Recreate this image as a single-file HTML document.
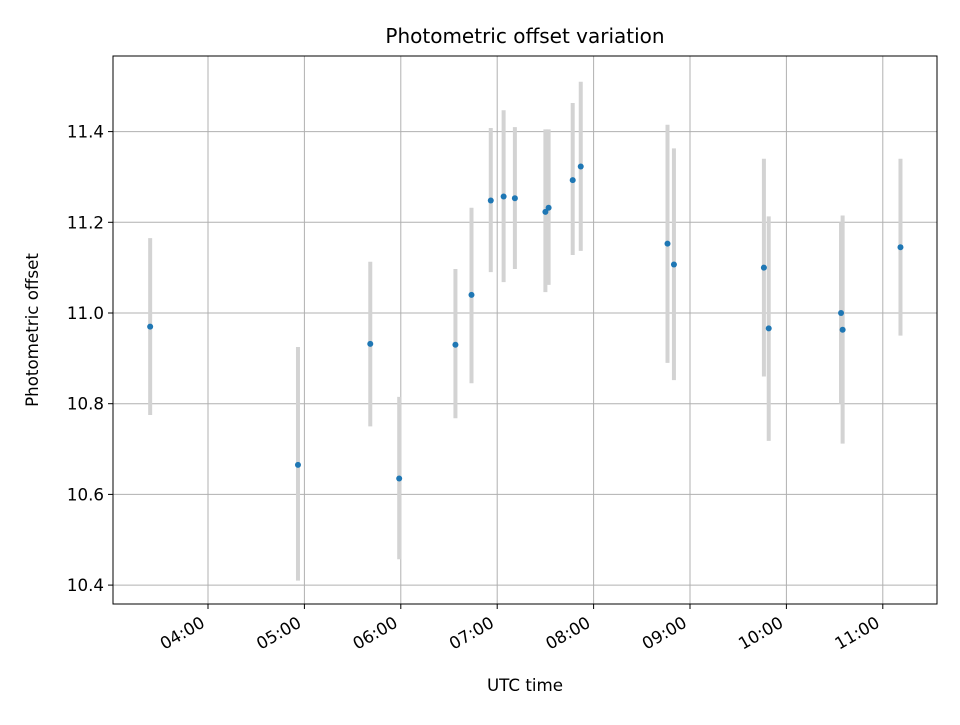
<!DOCTYPE html>
<html><head><meta charset="utf-8"><style>
body{margin:0;background:#fff}
svg text{font-family:"DejaVu Sans","Liberation Sans",sans-serif;fill:#000}
</style></head><body>
<svg id="c" width="960" height="720" xmlns="http://www.w3.org/2000/svg"></svg>
<script>
const times=["03:24","04:56","05:41","05:59","06:34","06:44","06:56","07:04","07:11","07:30","07:32","07:47","07:52","08:46","08:50","09:46","09:49","10:34","10:35","11:11"];
const values=[10.97,10.665,10.932,10.635,10.93,11.04,11.248,11.257,11.253,11.223,11.232,11.293,11.323,11.153,11.107,11.1,10.966,11.0,10.963,11.145];
const lows=[10.775,10.41,10.75,10.457,10.768,10.845,11.09,11.068,11.097,11.046,11.062,11.128,11.137,10.89,10.852,10.86,10.718,10.8,10.712,10.95];
const highs=[11.165,10.925,11.113,10.815,11.097,11.232,11.408,11.447,11.41,11.405,11.405,11.463,11.51,11.415,11.363,11.34,11.213,11.2,11.215,11.34];
const xTickLabels=["04:00","05:00","06:00","07:00","08:00","09:00","10:00","11:00"];
const yTicks=[10.4,10.6,10.8,11.0,11.2,11.4];

const L=113,R=937,T=56,B=604;
const toH=s=>{const p=s.split(':');return +p[0]+p[1]/60;};
const xs=h=>208+(h-4)*96.4;
const ys=v=>313-(v-11.0)*453.5;
const svg=document.getElementById('c');
const NS='http://www.w3.org/2000/svg';
function mk(tag,attrs,parent){const e=document.createElementNS(NS,tag);for(const k in attrs)e.setAttribute(k,attrs[k]);(parent||svg).appendChild(e);return e;}

const grid=mk('g',{});


xTickLabels.forEach(t=>{const x=xs(toH(t));
 const l=mk('line',{x1:x,x2:x,y1:T,y2:B,stroke:'#b0b0b0','stroke-width':1},grid);
 
 });
yTicks.forEach(v=>{const y=ys(v);
 const l=mk('line',{x1:L,x2:R,y1:y,y2:y,stroke:'#b0b0b0','stroke-width':1},grid);
 
 });

const eb=mk('g',{});


times.forEach((t,i)=>{const x=xs(toH(t));
 const l=mk('line',{x1:x,x2:x,y1:ys(lows[i]),y2:ys(highs[i]),stroke:'#d3d3d3','stroke-width':4},eb);
 
 });
const pts=mk('g',{});


times.forEach((t,i)=>{
 const c=mk('circle',{cx:xs(toH(t)),cy:ys(values[i]),r:3,fill:'#1f77b4'},pts);
 
 });

const fr=mk('rect',{x:L,y:T,width:R-L,height:B-T,fill:'none',stroke:'#000','stroke-width':1});



const xa=mk('g',{});


xTickLabels.forEach(t=>{const x=xs(toH(t));
 mk('line',{x1:x,x2:x,y1:B,y2:B+5,stroke:'#000'},xa);
 const px=x-2,py=B+22;
 const tx=mk('text',{x:px,y:py,'font-size':16.7,'text-anchor':'end',transform:`rotate(-30 ${px} ${py})`},xa);
 tx.textContent=t;
 
 });
const ya=mk('g',{});


yTicks.forEach(v=>{const y=ys(v);
 mk('line',{x1:L-5,x2:L,y1:y,y2:y,stroke:'#000'},ya);
 const tx=mk('text',{x:L-9,y:y+6,'font-size':16.7,'text-anchor':'end'},ya);
 tx.textContent=v.toFixed(1);
 
 });

const ti=mk('text',{x:525,y:43,'font-size':20,'text-anchor':'middle'});
ti.textContent='Photometric offset variation';


const xt=mk('text',{x:525,y:691,'font-size':16.7,'text-anchor':'middle'});
xt.textContent='UTC time';


const yt=mk('text',{x:38,y:330,'font-size':16.7,'text-anchor':'middle',transform:'rotate(-90 38 330)'});
yt.textContent='Photometric offset';


</script>
</body></html>
